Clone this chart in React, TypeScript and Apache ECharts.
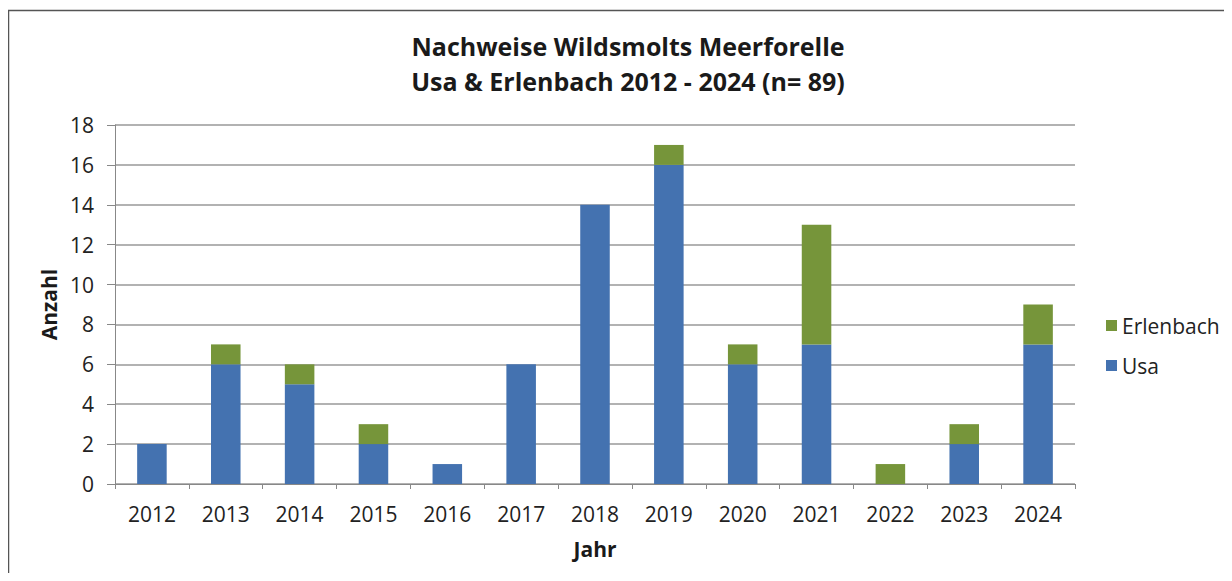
import React, { useEffect, useRef } from "react";
import * as echarts from "echarts";

const years = ["2012", "2013", "2014", "2015", "2016", "2017", "2018", "2019", "2020", "2021", "2022", "2023", "2024"];
const usa = [2, 6, 5, 2, 1, 6, 14, 16, 6, 7, 0, 2, 7];
const erlenbach = [0, 1, 1, 1, 0, 0, 0, 1, 1, 6, 1, 1, 2];
const titleLines = ["Nachweise Wildsmolts Meerforelle", "Usa & Erlenbach 2012 - 2024 (n= 89)"];

const FONT = "'Open Sans', 'Noto Sans', sans-serif";

export default function App() {
  const ref = useRef<HTMLDivElement>(null);
  useEffect(() => {
    if (!ref.current) return;
    const chart = echarts.init(ref.current, null, { renderer: "svg" });
    chart.setOption({
      animation: false,
      backgroundColor: "#ffffff",
      textStyle: { fontFamily: FONT },
      title: {
        text: titleLines.join("\n"),
        left: 615,
        top: 15,
        textAlign: "center",
        textStyle: { fontFamily: FONT, fontSize: 25, fontWeight: "bold", color: "#1a1a1a", lineHeight: 35 },
      },
      graphic: [
        {
          type: "rect",
          shape: { x: 0.5, y: 2.5, width: 1240, height: 600 },
          style: { fill: "none", stroke: "#555", lineWidth: 1.5 },
          silent: true,
        },
      ],
      legend: {
        orient: "vertical",
        left: 1093,
        top: 302,
        itemWidth: 11,
        itemHeight: 11,
        itemGap: 19,
        data: ["Erlenbach", "Usa"],
        textStyle: { fontFamily: FONT, fontSize: 21, color: "#222" },
        icon: "rect",
      },
      grid: { left: 107, top: 117, width: 960, height: 359 },
      xAxis: {
        type: "category",
        data: years,
        name: "Jahr",
        nameLocation: "middle",
        nameGap: 54,
        nameTextStyle: { fontFamily: FONT, fontSize: 21, fontWeight: "bold", color: "#1a1a1a" },
        axisLine: { lineStyle: { color: "#888" } },
        axisTick: { show: true, length: 5, lineStyle: { color: "#888" } },
        axisLabel: { fontFamily: FONT, fontSize: 21, color: "#222", margin: 19 },
      },
      yAxis: {
        type: "value",
        min: 0,
        max: 18,
        interval: 2,
        name: "Anzahl",
        nameLocation: "middle",
        nameGap: 56,
        nameRotate: 90,
        nameTextStyle: { fontFamily: FONT, fontSize: 21, fontWeight: "bold", color: "#1a1a1a" },
        axisLine: { show: true, lineStyle: { color: "#888" } },
        axisTick: { show: true, length: 8, lineStyle: { color: "#888" } },
        axisLabel: { fontFamily: FONT, fontSize: 21, color: "#222", margin: 21 },
        splitLine: { lineStyle: { color: "#999", width: 1.5 } },
      },
      series: [
        {
          name: "Usa",
          type: "bar",
          stack: "total",
          data: usa,
          barWidth: "40%",
          itemStyle: { color: "#4472B0" },
        },
        {
          name: "Erlenbach",
          type: "bar",
          stack: "total",
          data: erlenbach,
          barWidth: "40%",
          itemStyle: { color: "#76953A" },
        },
      ],
    });
    return () => chart.dispose();
  }, []);
  return <div ref={ref} style={{ width: 1216, height: 565 }} />;
}
